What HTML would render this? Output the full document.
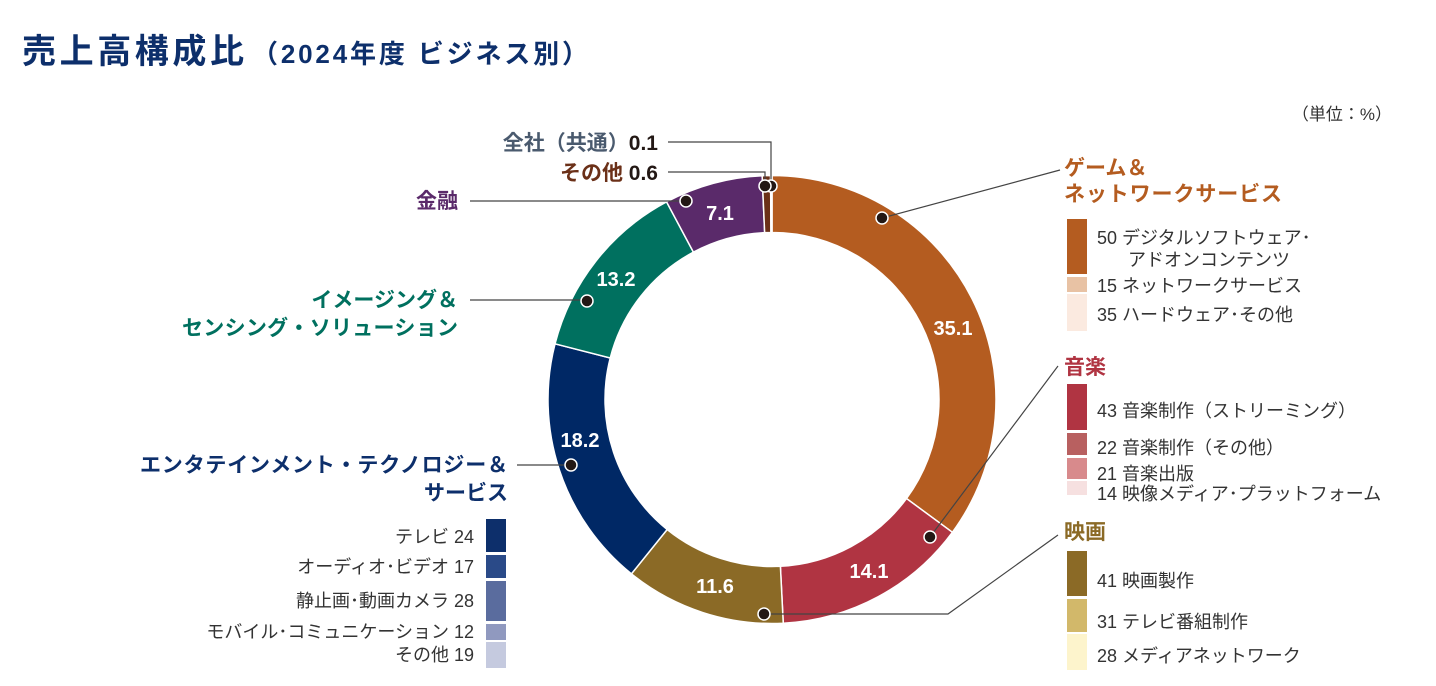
<!DOCTYPE html>
<html><head><meta charset="utf-8">
<style>
body{margin:0;width:1436px;height:686px;background:#fff;overflow:hidden;font-family:"Liberation Sans","Noto Sans CJK JP",sans-serif;}
svg{position:absolute;left:0;top:0}
text{font-family:"Liberation Sans","Noto Sans CJK JP",sans-serif}
.b{font-weight:bold}
.lg{font-size:18px;fill:#333}
</style></head><body>
<svg id="s" width="1436" height="686" viewBox="0 0 1436 686">
<text x="22" y="63" class="b" font-size="34" fill="#0d2f6b" textLength="222">売上高構成比</text>
<text x="252" y="63" class="b" font-size="26" fill="#0d2f6b" textLength="336">（2024年度 ビジネス別）</text>
<text x="1392" y="120" font-size="17" fill="#333" text-anchor="end">（単位：%）</text>
<g id="donut"></g>
<g stroke="#444" stroke-width="1.2" fill="none">
<polyline points="668,142 771,142 771,184"/>
<polyline points="668,172 765,172 765,184"/>
<line x1="470" y1="201" x2="686" y2="201"/>
<line x1="470" y1="300" x2="587" y2="300"/>
<line x1="517" y1="465" x2="571" y2="465"/>
<line x1="882" y1="218" x2="1060" y2="170"/>
<line x1="930" y1="537" x2="1058" y2="366"/>
<polyline points="764,614 948,614 1058,535"/>
</g>
<g fill="#231815" stroke="#fff" stroke-width="1.5">
<circle cx="771" cy="186" r="6"/><circle cx="765" cy="186" r="6"/>
<circle cx="686" cy="201" r="6"/><circle cx="587" cy="301" r="6"/>
<circle cx="571" cy="465" r="6"/><circle cx="882" cy="218" r="6"/>
<circle cx="930" cy="537" r="6"/><circle cx="764" cy="614" r="6"/>
</g>
<g class="b" font-size="20" fill="#fff" text-anchor="middle">
<text x="720" y="220">7.1</text>
<text x="616" y="286">13.2</text>
<text x="580" y="447">18.2</text>
<text x="715" y="593">11.6</text>
<text x="869" y="578">14.1</text>
<text x="953" y="335">35.1</text>
</g>
<g class="b" font-size="21">
<text x="658" y="150" text-anchor="end" fill="#4a5a6e">全社（共通）<tspan fill="#231815">0.1</tspan></text>
<text x="658" y="180" text-anchor="end" fill="#6b3018">その他 <tspan fill="#231815">0.6</tspan></text>
<text x="458" y="208" text-anchor="end" fill="#5a2a6a">金融</text>
<text x="458" y="307" text-anchor="end" fill="#00705f">イメージング＆</text>
<text x="458" y="335" text-anchor="end" fill="#00705f" textLength="276">センシング・ソリューション</text>
<text x="508" y="472" text-anchor="end" fill="#0d2f6b" textLength="368">エンタテインメント・テクノロジー＆</text>
<text x="508" y="500" text-anchor="end" fill="#0d2f6b">サービス</text>
<text x="1064" y="175" fill="#b45c20">ゲーム＆</text>
<text x="1064" y="201" fill="#b45c20" textLength="218">ネットワークサービス</text>
<text x="1064" y="374" fill="#b03442">音楽</text>
<text x="1064" y="539" fill="#8b6a26">映画</text>
</g>
<g>
<rect x="486" y="519" width="20" height="33" fill="#0d2f6b"/>
<rect x="486" y="555" width="20" height="23" fill="#2a4a88"/>
<rect x="486" y="581" width="20" height="40" fill="#5a6c9e"/>
<rect x="486" y="624" width="20" height="16" fill="#9099bf"/>
<rect x="486" y="642" width="20" height="26" fill="#c5cadf"/>
</g>
<g class="lg" text-anchor="end">
<text x="474" y="543">テレビ 24</text>
<text x="474" y="573">オーディオ･ビデオ 17</text>
<text x="474" y="607">静止画･動画カメラ 28</text>
<text x="474" y="638">モバイル･コミュニケーション 12</text>
<text x="474" y="661">その他 19</text>
</g>
<g>
<rect x="1067" y="219" width="20" height="55" fill="#b45c20"/>
<rect x="1067" y="277" width="20" height="15" fill="#e8c2a4"/>
<rect x="1067" y="294" width="20" height="37" fill="#fbeae0"/>
<rect x="1067" y="384" width="20" height="46" fill="#b03442"/>
<rect x="1067" y="433" width="20" height="22" fill="#b86060"/>
<rect x="1067" y="458" width="20" height="21" fill="#d88a8c"/>
<rect x="1067" y="481" width="20" height="14" fill="#f6e0e0"/>
<rect x="1067" y="551" width="20" height="45" fill="#8b6a26"/>
<rect x="1067" y="599" width="20" height="33" fill="#d2b86a"/>
<rect x="1067" y="634" width="20" height="36" fill="#fdf4cc"/>
</g>
<g class="lg">
<text x="1097" y="244">50 デジタルソフトウェア･</text>
<text x="1128" y="266">アドオンコンテンツ</text>
<text x="1097" y="292">15 ネットワークサービス</text>
<text x="1097" y="321">35 ハードウェア･その他</text>
<text x="1097" y="417">43 音楽制作（ストリーミング）</text>
<text x="1097" y="454">22 音楽制作（その他）</text>
<text x="1097" y="480">21 音楽出版</text>
<text x="1097" y="500">14 映像メディア･プラットフォーム</text>
<text x="1097" y="587">41 映画製作</text>
<text x="1097" y="628">31 テレビ番組制作</text>
<text x="1097" y="662">28 メディアネットワーク</text>
</g>
</svg>
<script>
(function(){
var cx=772,cy=399.5,R=224,r=167;
var d=[[35.1,"#b45c20"],[14.1,"#b03442"],[11.6,"#8b6a26"],[18.2,"#002865"],[13.2,"#00705f"],[7.1,"#5a2a6a"],[0.6,"#6b3018"],[0.1,"#4a5a6e"]];
var a=0,g=document.getElementById("donut"),h="";
function p(rad,ang){var t=ang/100*2*Math.PI;return [cx+rad*Math.sin(t),cy-rad*Math.cos(t)];}
d.forEach(function(s){var b=a+s[0],l=s[0]>50?1:0;
var A=p(R,a),B=p(R,b),C=p(r,b),D=p(r,a);
h+='<path d="M'+A+' A'+R+','+R+' 0 '+l+' 1 '+B+' L'+C+' A'+r+','+r+' 0 '+l+' 0 '+D+'Z" fill="'+s[1]+'" stroke="#fff" stroke-width="1.5"/>';
a=b;});
g.innerHTML=h;
})();
</script>
</body></html>
